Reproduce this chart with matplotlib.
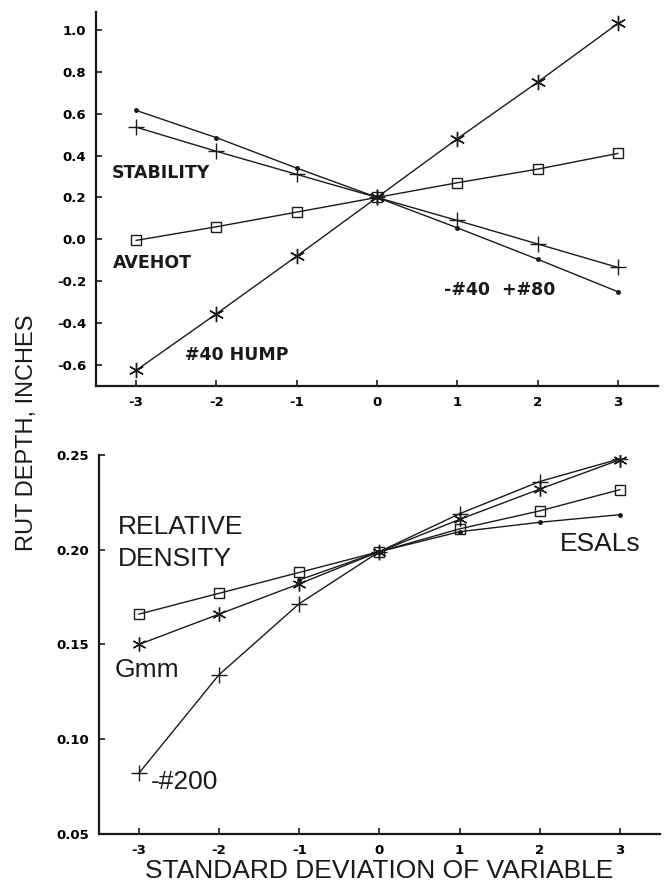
import matplotlib
matplotlib.use("Agg")
import matplotlib.pyplot as plt

plt.rcParams['font.family'] = ['Liberation Sans', 'DejaVu Sans']
plt.rcParams['axes.unicode_minus'] = False

sd = [-3, -2, -1, 0, 1, 2, 3]

# upper panel
stability = [0.615, 0.485, 0.340, 0.200, 0.055, -0.095, -0.250]
sieve_40_80 = [0.535, 0.420, 0.310, 0.200, 0.090, -0.022, -0.134]
avehot = [-0.005, 0.060, 0.130, 0.200, 0.270, 0.335, 0.410]
hump_40 = [-0.625, -0.355, -0.080, 0.200, 0.480, 0.750, 1.030]

# lower panel
rel_density = [0.166, 0.177, 0.188, 0.199, 0.211, 0.2205, 0.2317]
gmm = [0.150, 0.166, 0.182, 0.199, 0.216, 0.232, 0.2475]
minus_200 = [0.082, 0.134, 0.1715, 0.199, 0.219, 0.236, 0.248]
esal_sd = [-1, 0, 1, 2, 3]
esals = [0.184, 0.199, 0.2095, 0.2145, 0.2185]

top_yticks = [-0.6, -0.4, -0.2, 0.0, 0.2, 0.4, 0.6, 0.8, 1.0]
bot_yticks = [0.05, 0.10, 0.15, 0.20, 0.25]

INK = '#1a1a1a'
asterisk = (6, 2, 0)

fig = plt.figure(figsize=(6.67, 8.84), dpi=100)
ax1 = fig.add_axes([0.144, 0.5633, 0.8425, 0.4227])
ax2 = fig.add_axes([0.148, 0.0566, 0.8415, 0.4287])


def style(ax):
    for s in ['top', 'right']:
        ax.spines[s].set_visible(False)
    for s in ['left', 'bottom']:
        ax.spines[s].set_linewidth(1.6)
        ax.spines[s].set_color(INK)
    ax.tick_params(direction='in', length=4, width=1.2, color=INK, pad=7,
                   labelsize=9.5)
    for lab in ax.get_xticklabels() + ax.get_yticklabels():
        lab.set_fontweight('bold')
        lab.set_family('DejaVu Sans')
    ax.set_xlim(-3.5, 3.5)
    ax.set_xticks(sd)


kw = dict(color=INK, lw=1.0, mec=INK)

ax1.plot(sd, stability, marker='o', ms=2.5, **kw)
ax1.plot(sd, sieve_40_80, marker='+', ms=11, mew=1.0, **kw)
ax1.plot(sd, avehot, marker='s', ms=7, mfc='none', mew=1.0, **kw)
ax1.plot(sd, hump_40, marker=asterisk, ms=11, mew=1.0, **kw)
ax1.set_ylim(-0.7, 1.083)
ax1.set_yticks(top_yticks)
ax1.set_yticklabels([f"{v:.1f}" for v in top_yticks])
style(ax1)

tkw = dict(fontsize=12.5, fontweight='bold', color=INK, va='center',
           ha='left', family='DejaVu Sans')
ax1.text(-3.3, 0.315, "STABILITY", **tkw)
ax1.text(-3.29, -0.115, "AVEHOT", **tkw)
ax1.text(-2.39, -0.553, "#40 HUMP", **tkw)
ax1.text(0.84, -0.243, "-#40  +#80", **tkw)

ax2.plot(sd, rel_density, marker='s', ms=7, mfc='none', mew=1.0, **kw)
ax2.plot(sd, gmm, marker=asterisk, ms=10, mew=1.0, **kw)
ax2.plot(sd, minus_200, marker='+', ms=12, mew=1.0, **kw)
ax2.plot(esal_sd, esals, marker='o', ms=2.5, **kw)
ax2.set_ylim(0.05, 0.25)
ax2.set_yticks(bot_yticks)
ax2.set_yticklabels([f"{v:.2f}" for v in bot_yticks])
style(ax2)

lkw = dict(fontsize=19, color=INK, va='center', ha='left')
ax2.text(-3.26, 0.212, "RELATIVE", **lkw)
ax2.text(-3.26, 0.1952, "DENSITY", **lkw)
ax2.text(-3.3, 0.1366, "Gmm", **lkw)
ax2.text(-2.85, 0.0775, "-#200", **lkw)
ax2.text(2.25, 0.203, "ESALs", **lkw)

ax2.set_xlabel("STANDARD DEVIATION OF VARIABLE", fontsize=19, color=INK,
               labelpad=2)
fig.text(0.04, 0.511, "RUT DEPTH, INCHES", rotation=90, fontsize=17,
         color=INK, va='center', ha='center')

fig.savefig("out.png", dpi=100)
